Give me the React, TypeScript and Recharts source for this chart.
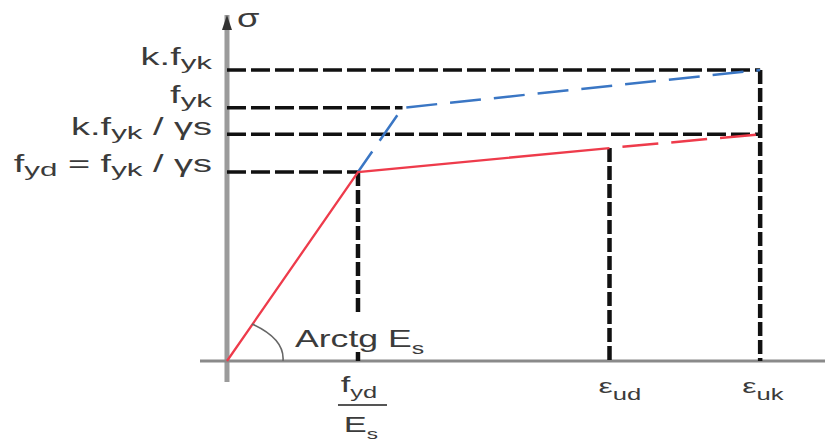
import React from 'react';
import { LineChart, Line, XAxis, YAxis, ReferenceLine, ReferenceDot } from 'recharts';

// Normalised strain (fyd/Es = 1) and stress (fyd = 1)
const EPS_YD = 1; // fyd / Es
const EPS_UD = 2.92; // εud
const EPS_UK = 4.07; // εuk
const F_YD = 1; // fyd = fyk / γs
const KF_YK_GS = 1.2; // k.fyk / γs
const F_YK = 1.34; // fyk
const KF_YK = 1.54; // k.fyk
const SIG_UD = 1.127; // design stress at εud

const strainTicks = [EPS_YD, EPS_UD, EPS_UK];
const strainTickLabels = ['f_{yd}|E_{s}', 'ε_{ud}', 'ε_{uk}'];
const stressTicks = [F_YD, KF_YK_GS, F_YK, KF_YK];
const stressTickLabels = ['f_{yd} = f_{yk} / γs', 'k.f_{yk} / γs', 'f_{yk}', 'k.f_{yk}'];

const designBranch = [
  { x: 0, y: 0 },
  { x: EPS_YD, y: F_YD },
  { x: EPS_UD, y: SIG_UD },
];
const designExtension = [
  { x: EPS_UD, y: SIG_UD },
  { x: EPS_UK, y: KF_YK_GS },
];
const characteristicBranch = [
  { x: EPS_YD, y: F_YD },
  { x: F_YK, y: F_YK },
  { x: EPS_UK, y: KF_YK },
];

const xDomain = [-0.206, 4.565];
const yDomain = [-0.111, 1.831];

// styling
const FONT = '"Liberation Sans", Arial, sans-serif';
const TEXT = '#3b3b3b';
const SX = 1.65;
const stressLabelShift = [0, 1, -5, -5];
const strainLabelDx = [0, -11, -18];

function rich(text: string, size: number, subSize: number, subShift: number) {
  const parts = text.split(/(_\{[^}]*\})/).filter((p) => p.length > 0);
  let shifted = false;
  return parts.map((p, i) => {
    if (p.startsWith('_{')) {
      const t = p.slice(2, -1);
      const el = (
        <tspan key={i} fontSize={subSize} dy={shifted ? 0 : subShift}>
          {t}
        </tspan>
      );
      shifted = true;
      return el;
    }
    const el = (
      <tspan key={i} fontSize={size} dy={shifted ? -subShift : 0}>
        {p}
      </tspan>
    );
    shifted = false;
    return el;
  });
}

const YTick = (props: any) => {
  const { x, y, payload } = props;
  const idx = stressTicks.indexOf(payload.value);
  if (idx < 0) return null;
  return (
    <g transform={`translate(${x + 12},${y + stressLabelShift[idx]}) scale(${SX},1)`}>
      <text x={0} y={0} textAnchor="end" fill={TEXT} fontFamily={FONT} style={{ whiteSpace: 'pre' }}>
        {rich(stressTickLabels[idx], 23, 19, 4)}
      </text>
    </g>
  );
};

const XTick = (props: any) => {
  const { x, y, payload } = props;
  const idx = strainTicks.indexOf(payload.value);
  if (idx < 0) return null;
  const label = strainTickLabels[idx];
  if (label.includes('|')) {
    const [num, den] = label.split('|');
    return (
      <g>
        <g transform={`translate(${x + 1},${y + 10}) scale(1.5,1)`}>
          <text textAnchor="middle" fill={TEXT} fontFamily={FONT} style={{ whiteSpace: 'pre' }}>
            {rich(num, 23, 17, 6)}
          </text>
        </g>
        <line x1={x - 20} x2={x + 29} y1={y + 23} y2={y + 23} stroke="#555" strokeWidth={2} />
        <g transform={`translate(${x + 3},${y + 50}) scale(1.5,1)`}>
          <text textAnchor="middle" fill={TEXT} fontFamily={FONT} style={{ whiteSpace: 'pre' }}>
            {rich(den, 23, 15, 7)}
          </text>
        </g>
      </g>
    );
  }
  return (
    <g transform={`translate(${x + strainLabelDx[idx]},${y + 11}) scale(1.6,1)`}>
      <text textAnchor="start" fill={TEXT} fontFamily={FONT} style={{ whiteSpace: 'pre' }}>
        {rich(label, 20, 16, 7)}
      </text>
    </g>
  );
};

const AxisArrow = (props: any) => {
  const { cx, cy } = props;
  return (
    <g>
      <polygon points={`${cx},${cy} ${cx - 5},${cy + 15} ${cx + 5},${cy + 15}`} fill="#333" />
      <g transform={`translate(${cx + 10},${cy + 12}) scale(1.4,1)`}>
        <text fill={TEXT} fontFamily={FONT} fontSize={26}>
          σ
        </text>
      </g>
    </g>
  );
};

const AngleMark = (props: any) => {
  const { cx, cy } = props;
  return (
    <g>
      <rect x={cx + 64} y={cy - 48} width={140} height={36} fill="#fff" />
      <path
        d={`M ${cx + 25} ${cy - 37} Q ${cx + 58} ${cy - 22} ${cx + 56} ${cy}`}
        stroke="#666"
        strokeWidth={1.6}
        fill="none"
      />
      <g transform={`translate(${cx + 68},${cy - 14}) scale(1.55,1)`}>
        <text fill={TEXT} fontFamily={FONT} style={{ whiteSpace: 'pre' }}>
          {rich('Arctg E_{s}', 23, 16, 7)}
        </text>
      </g>
    </g>
  );
};

const H = { stroke: '#111', strokeWidth: 3.5, strokeDasharray: '19 5' };
const V = { stroke: '#111', strokeWidth: 4.5, strokeDasharray: '14 4' };

export default function App() {
  return (
    <div style={{ position: 'absolute', left: 0, top: 0, background: '#fff' }}>
      <LineChart width={825} height={441} margin={{ top: 15, right: 0, bottom: 0, left: 0 }}>
        <XAxis
          type="number"
          dataKey="x"
          domain={xDomain}
          allowDataOverflow
          ticks={strainTicks}
          tick={<XTick />}
          axisLine={false}
          tickLine={false}
          tickSize={0}
          tickMargin={0}
          height={59}
          interval={0}
        />
        <YAxis
          type="number"
          dataKey="y"
          domain={yDomain}
          allowDataOverflow
          ticks={stressTicks}
          tick={<YTick />}
          axisLine={false}
          tickLine={false}
          tickSize={0}
          tickMargin={0}
          width={200}
          interval={0}
        />
        <ReferenceLine x={0} stroke="#9b9b9b" strokeWidth={5} />
        <ReferenceLine y={0} stroke="#8a8a8a" strokeWidth={3} />

        <ReferenceLine segment={[{ x: 0, y: KF_YK }, { x: EPS_UK, y: KF_YK }]} {...H} />
        <ReferenceLine segment={[{ x: 0, y: F_YK }, { x: F_YK, y: F_YK }]} {...H} />
        <ReferenceLine segment={[{ x: 0, y: KF_YK_GS }, { x: EPS_UK, y: KF_YK_GS }]} {...H} />
        <ReferenceLine segment={[{ x: 0, y: F_YD }, { x: EPS_YD, y: F_YD }]} {...H} />
        <ReferenceLine segment={[{ x: EPS_YD, y: F_YD }, { x: EPS_YD, y: 0 }]} {...V} />
        <ReferenceLine segment={[{ x: EPS_UD, y: SIG_UD }, { x: EPS_UD, y: 0 }]} {...V} />
        <ReferenceLine segment={[{ x: EPS_UK, y: KF_YK }, { x: EPS_UK, y: 0 }]} {...V} />

        <ReferenceDot x={0} y={0} r={1} shape={(p: any) => <AngleMark {...p} />} />
        <ReferenceDot x={0} y={yDomain[1]} r={1} shape={(p: any) => <AxisArrow {...p} />} />

        <Line
          data={characteristicBranch}
          dataKey="y"
          type="linear"
          stroke="#3a76c4"
          strokeWidth={2.5}
          strokeDasharray="31 13"
          strokeDashoffset={6}
          dot={false}
          isAnimationActive={false}
        />
        <Line
          data={designBranch}
          dataKey="y"
          type="linear"
          stroke="#ee3b4b"
          strokeWidth={2.3}
          dot={false}
          isAnimationActive={false}
        />
        <Line
          data={designExtension}
          dataKey="y"
          type="linear"
          stroke="#ee3b4b"
          strokeWidth={2.5}
          strokeDasharray="36 13"
          strokeDashoffset={36}
          dot={false}
          isAnimationActive={false}
        />
      </LineChart>
    </div>
  );
}
